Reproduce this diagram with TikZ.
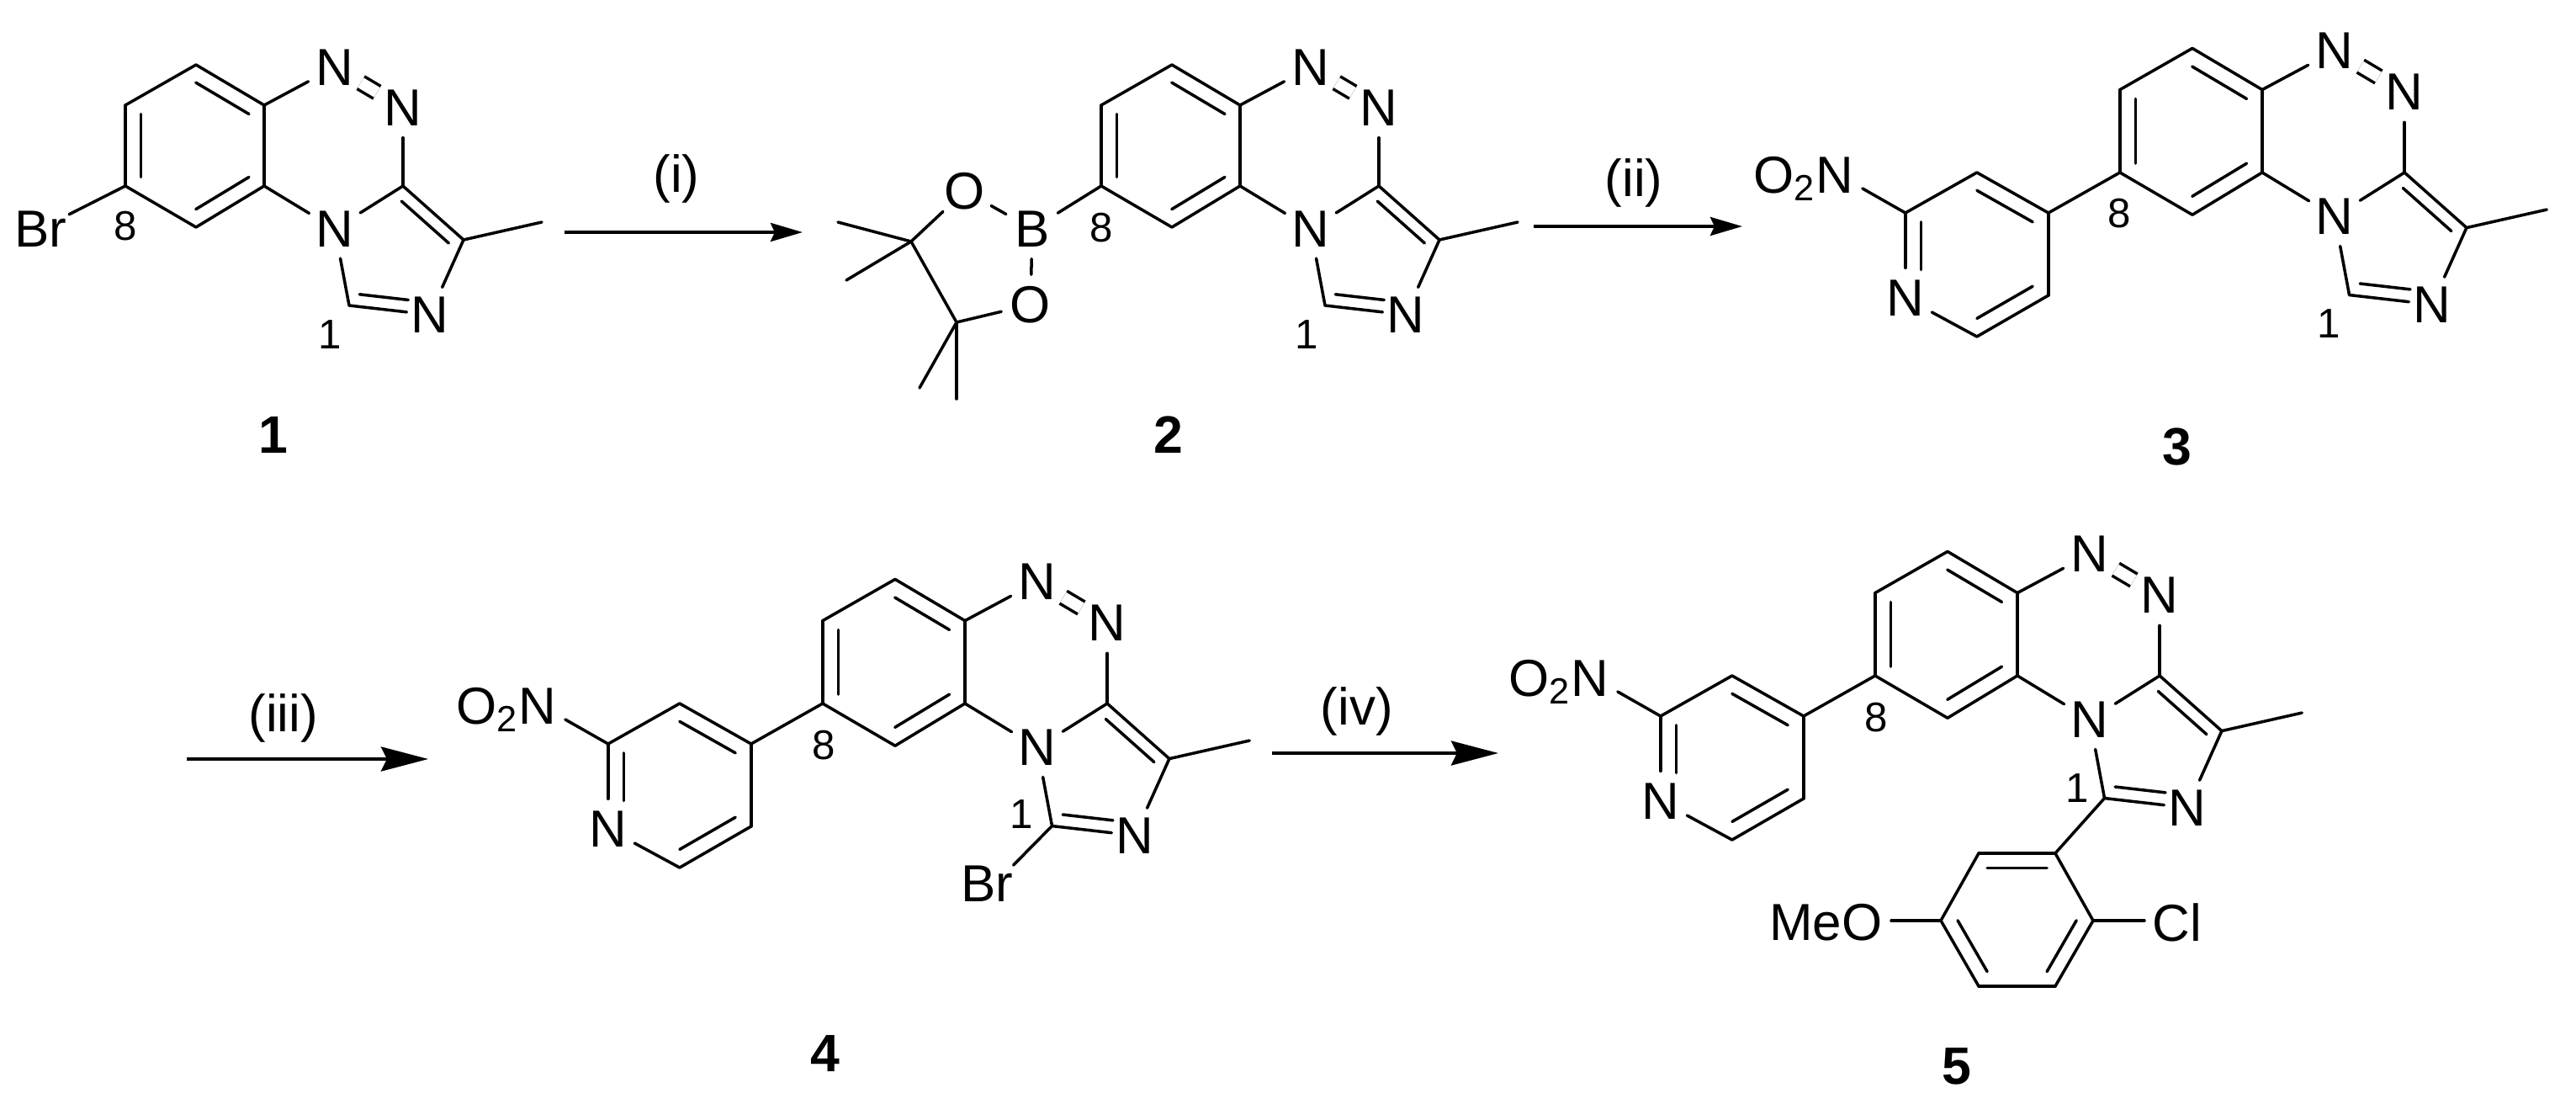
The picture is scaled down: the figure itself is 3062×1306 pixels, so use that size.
\documentclass[tikz,border=0pt]{standalone}
\usepackage{fontspec}
\setmainfont{Liberation Sans}
\usetikzlibrary{arrows.meta,calc,positioning}
\tikzset{
    atom/.style={circle,inner sep=0pt,minimum size=.7cm,font=\fontsize{17.6}{17.6}\selectfont},
    grp/.style={inner sep=0pt,font=\fontsize{17.6}{17.6}\selectfont},
    bond/.style={draw,line width=1pt,line cap=round},
    dbl/.style={double,double distance=.135cm,line cap=butt},
    rxn/.style={draw,line width=1.15pt,-{Stealth[length=.38cm,width=.22cm,inset=.05cm]}},
    rxnbig/.style={draw,line width=1.15pt,-{Stealth[length=.56cm,width=.29cm,inset=.07cm]}},
    cond/.style={inner sep=0pt,font=\fontsize{17.6}{17.6}\selectfont},
    locant/.style={inner sep=0pt,font=\fontsize{14}{14}\selectfont},
    cmpd/.style={inner sep=0pt,font=\fontsize{17.8}{17.8}\selectfont\bfseries}
}
\newcommand{\ringbond}[4][]{\path[bond,#1] ($(#2)!.22!(#4)$) edge ($(#3)!.22!(#4)$);}
\newcommand{\triazcore}[4]{
    \begin{scope}[shift={(#2,#3)},scale=#4]
        \coordinate (#1b1) at (-81,-144);
        \coordinate (#1b2) at (0,-96);
        \coordinate (#1b3) at (0,0);
        \coordinate (#1b4) at (-81,49);
        \coordinate (#1b5) at (-165,0);
        \coordinate (#1b6) at (-165,-96);
        \coordinate (#1cb) at (-82,-48);
        \coordinate (#1c3) at (165,0);
        \coordinate (#1c5) at (101,142);
        \coordinate (#1c7) at (237,64);
        \coordinate (#1me) at (330,43);
        \coordinate (#1cf) at (157,82);
        \node[atom] (#1n1) at (84,-141) {N};
        \node[atom] (#1n2) at (165,-93) {N};
        \node[atom] (#1n4) at (84,51) {N};
        \node[atom] (#1n6) at (197,153) {N};
    \end{scope}
    \path[bond]
        (#1b1) edge (#1b2)
        (#1b2) edge (#1b3)
        (#1b3) edge (#1b4)
        (#1b4) edge (#1b5)
        (#1b5) edge (#1b6)
        (#1b6) edge (#1b1)
        (#1b2) edge (#1n1)
        (#1n1) edge[dbl] (#1n2)
        (#1n2) edge (#1c3)
        (#1c3) edge (#1n4)
        (#1b3) edge (#1n4)
        (#1n4) edge (#1c5)
        (#1c5) edge[shorten >=-.08cm] (#1n6)
        (#1n6) edge (#1c7)
        (#1c7) edge (#1c3)
        (#1c7) edge (#1me);
    \ringbond{#1b1}{#1b2}{#1cb}
    \ringbond{#1b3}{#1b4}{#1cb}
    \ringbond{#1b5}{#1b6}{#1cb}
    \ringbond{#1c3}{#1c7}{#1cf}
    \ringbond[shorten >=.17cm]{#1c5}{#1n6}{#1cf}
}
\newcommand{\nitropy}[1]{
    \begin{scope}[shift={(#1b5)}]
        \coordinate (#1p2) at (-85,48);
        \coordinate (#1p1) at (-170,0);
        \coordinate (#1p3) at (-85,146);
        \coordinate (#1p4) at (-170,195);
        \coordinate (#1p6) at (-255,48);
        \coordinate (#1pc) at (-170,97);
        \node[atom] (#1pn) at (-255,149) {N};
        \node[grp,inner xsep=.1cm,anchor=base east] (#1no) at (-306,24) {O\textsubscript{2}N};
    \end{scope}
    \path[bond]
        (#1b5) edge (#1p2)
        (#1p2) edge (#1p1)
        (#1p1) edge (#1p6)
        (#1p6) edge (#1pn)
        (#1pn) edge (#1p4)
        (#1p4) edge (#1p3)
        (#1p3) edge (#1p2)
        (#1p6) edge ([yshift=.05cm]#1no.base east);
    \ringbond{#1p1}{#1p2}{#1pc}
    \ringbond{#1p3}{#1p4}{#1pc}
    \ringbond[shorten >=.22cm]{#1p6}{#1pn}{#1pc}
}
\begin{document}
\begin{tikzpicture}[x=.01cm,y=-.01cm]
    \useasboundingbox (0,0) rectangle (3062,1306);

    \triazcore{a}{314}{221}{1}
    \node[atom] (abr) at (48,272) {Br};
    \path[bond] (ab5) edge (abr);
    \node[locant] (a8) at (149,269) {8};
    \node[locant] (a1) at (392,398) {1};
    \node[cmpd] (acmpd) at (325,517) {1};

    \triazcore{b}{1474}{221}{1}
    \node[atom] (bbo) at (1227,272) {B};
    \node[atom] (bo1) at (1147,227) {O};
    \node[atom] (bo2) at (1225,362) {O};
    \coordinate (bc4) at (1083,287);
    \coordinate (bc5) at (1137,383);
    \coordinate (bm1) at (996,264);
    \coordinate (bm2) at (1006,333);
    \coordinate (bm3) at (1093,461);
    \coordinate (bm4) at (1137,474);
    \path[bond]
        (bb5) edge (bbo)
        (bbo) edge (bo1)
        (bbo) edge (bo2)
        (bo1) edge (bc4)
        (bo2) edge (bc5)
        (bc4) edge (bc5)
        (bc4) edge (bm1)
        (bc4) edge (bm2)
        (bc5) edge (bm3)
        (bc5) edge (bm4);
    \node[locant] (b8) at (1309,271) {8};
    \node[locant] (b1) at (1553,398) {1};
    \node[cmpd] (bcmpd) at (1389,517) {2};

    \triazcore{c}{2689}{205}{1.025}
    \nitropy{c}
    \node[locant] (c8) at (2519,254) {8};
    \node[locant] (c1) at (2768,385) {1};
    \node[cmpd] (ccmpd) at (2588,531) {3};

    \triazcore{d}{1147}{836}{1.025}
    \nitropy{d}
    \node[grp,anchor=center] (dbr) at (1173,1050) {Br};
    \path[bond] (dc5) edge (dbr.north east);
    \node[locant] (d8) at (979,886) {8};
    \node[locant] (d1) at (1214,968) {1};
    \node[cmpd] (dcmpd) at (981,1252) {4};

    \triazcore{e}{2398}{803}{1.025}
    \nitropy{e}
    \coordinate (ea1) at (2443,1014);
    \coordinate (ea2) at (2488,1094);
    \coordinate (ea3) at (2443,1172);
    \coordinate (ea4) at (2352,1172);
    \coordinate (ea5) at (2307,1094);
    \coordinate (ea6) at (2352,1014);
    \coordinate (eac) at (2398,1093);
    \node[grp,inner xsep=.1cm,anchor=east] (emeo) at (2248,1096) {MeO};
    \node[grp,inner xsep=.09cm,anchor=west] (ecl) at (2549,1096) {Cl};
    \path[bond]
        (ec5) edge (ea1)
        (ea1) edge (ea2)
        (ea2) edge (ea3)
        (ea3) edge (ea4)
        (ea4) edge (ea5)
        (ea5) edge (ea6)
        (ea6) edge (ea1)
        (ea5) edge (ea5 -| emeo.east)
        (ea2) edge (ea2 -| ecl.west);
    \ringbond{ea6}{ea1}{eac}
    \ringbond{ea2}{ea3}{eac}
    \ringbond{ea4}{ea5}{eac}
    \node[locant] (e8) at (2230,853) {8};
    \node[locant] (e1) at (2469,937) {1};
    \node[cmpd] (ecmpd) at (2326,1267) {5};

    \coordinate (r1s) at (671,276);
    \coordinate (r1e) at (954,276);
    \coordinate (r2s) at (1823,269);
    \coordinate (r2e) at (2071,269);
    \coordinate (r3s) at (222,902);
    \coordinate (r3e) at (509,902);
    \coordinate (r4s) at (1512,895);
    \coordinate (r4e) at (1781,895);
    \path (r1s) edge[rxn] node[cond,pos=.47,above=.33cm] (r1) {(i)} (r1e);
    \path (r2s) edge[rxn] node[cond,pos=.48,above=.21cm] (r2) {(ii)} (r2e);
    \path (r3s) edge[rxnbig] node[cond,pos=.4,above=.18cm] (r3) {(iii)} (r3e);
    \path (r4s) edge[rxnbig] node[cond,pos=.375,above=.19cm] (r4) {(iv)} (r4e);
\end{tikzpicture}
\end{document}
